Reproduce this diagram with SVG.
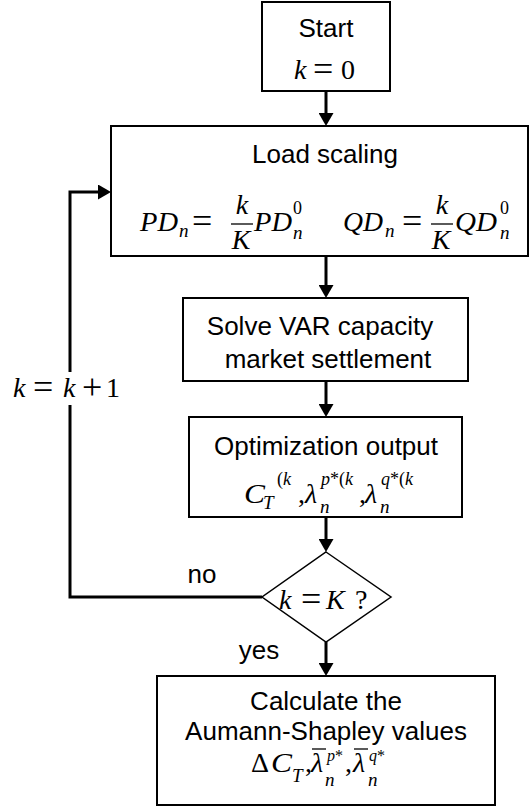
<svg xmlns="http://www.w3.org/2000/svg" width="530" height="811" viewBox="0 0 530 811">
<defs>
<style>
.box{fill:#fff;stroke:#000;stroke-width:2}
.dia{fill:#fff;stroke:#000;stroke-width:1.5}
.conn{fill:none;stroke:#000;stroke-width:3}
.t{font-family:"Liberation Sans",Arial,sans-serif;font-size:26px;text-anchor:middle;fill:#000}
.mi{font-family:"Liberation Serif","Times New Roman",serif;font-style:italic;font-size:28px;fill:#000}
.mr{font-family:"Liberation Serif","Times New Roman",serif;font-size:28px;fill:#000}
.eq{font-family:"Liberation Serif","Times New Roman",serif;font-size:36px;fill:#000}
.si{font-family:"Liberation Serif","Times New Roman",serif;font-style:italic;font-size:19px;fill:#000}
.sr{font-family:"Liberation Serif","Times New Roman",serif;font-size:18px;fill:#000}
.ss{font-family:"Liberation Serif","Times New Roman",serif;font-size:16px;fill:#000}
.it{font-style:italic}
.bar{stroke:#000;stroke-width:1.3}
</style>
<marker id="ah" viewBox="0 0 13 15" markerWidth="13" markerHeight="15" refX="8" refY="7.5" orient="auto" markerUnits="userSpaceOnUse">
<path d="M0,0 L13,7.5 L0,15 z" fill="#000"/>
</marker>
</defs>
<rect width="530" height="811" fill="#fff"/>

<g id="connectors">
<path class="conn" d="M326,92 V121" marker-end="url(#ah)"/>
<path class="conn" d="M326,257 V293" marker-end="url(#ah)"/>
<path class="conn" d="M326,382 V412" marker-end="url(#ah)"/>
<path class="conn" d="M326,518 V547" marker-end="url(#ah)"/>
<path class="conn" d="M326,642 V671" marker-end="url(#ah)"/>
<path class="conn" d="M262,597 H70 V405"/>
<path class="conn" d="M70,372 V192 H106" marker-end="url(#ah)"/>
<text class="mi" x="13" y="397">k</text>
<text class="eq" x="33" y="399">=</text>
<text class="mi" x="63" y="397">k</text>
<text class="eq" x="82" y="399">+</text>
<text class="mr" x="106" y="397">1</text>
<text class="t" x="202" y="583">no</text>
<text class="t" x="259" y="659">yes</text>
</g>

<g id="start">
<rect class="box" x="262" y="2" width="128" height="89"/>
<text class="t" x="326" y="37">Start</text>
<text class="mi" x="294" y="79">k</text>
<text class="eq" x="313" y="81">=</text>
<text class="mr" x="341" y="79">0</text>
</g>

<g id="load">
<rect class="box" x="111" y="126" width="417" height="130"/>
<text class="t" x="325" y="163">Load scaling</text>
<text class="mi" x="140" y="231" textLength="38" lengthAdjust="spacingAndGlyphs">PD</text>
<text class="si" x="179" y="237">n</text>
<text class="eq" x="192" y="233">=</text>
<line class="bar" x1="231" y1="224" x2="253" y2="224"/>
<text class="mi" x="242" y="214" text-anchor="middle">k</text>
<text class="mi" x="241" y="249" text-anchor="middle">K</text>
<text class="mi" x="254" y="231" textLength="38" lengthAdjust="spacingAndGlyphs">PD</text>
<text class="sr" x="293" y="214">0</text>
<text class="si" x="293" y="239">n</text>
<text class="mi" x="343" y="231" textLength="40" lengthAdjust="spacingAndGlyphs">QD</text>
<text class="si" x="385" y="237">n</text>
<text class="eq" x="402" y="233">=</text>
<line class="bar" x1="431" y1="224" x2="453" y2="224"/>
<text class="mi" x="442" y="214" text-anchor="middle">k</text>
<text class="mi" x="441" y="249" text-anchor="middle">K</text>
<text class="mi" x="455" y="231" textLength="42" lengthAdjust="spacingAndGlyphs">QD</text>
<text class="sr" x="500" y="214">0</text>
<text class="si" x="500" y="239">n</text>
</g>

<g id="solve">
<rect class="box" x="183" y="298" width="285" height="83"/>
<text class="t" x="320" y="335">Solve VAR capacity</text>
<text class="t" x="328" y="368">market settlement</text>
</g>

<g id="output">
<rect class="box" x="189" y="417" width="273" height="100"/>
<text class="t" x="326" y="455">Optimization output</text>
<text class="mi" x="244" y="503" textLength="21" lengthAdjust="spacingAndGlyphs">C</text>
<text class="si" x="263" y="509">T</text>
<text class="sr" x="277" y="485">(<tspan class="it">k</tspan></text>
<text class="mr" x="298" y="503">,</text>
<text class="mi" x="305" y="503">λ</text>
<text class="sr" x="321" y="485"><tspan class="it">p</tspan>*(<tspan class="it">k</tspan></text>
<text class="si" x="320" y="513">n</text>
<text class="mr" x="359" y="503">,</text>
<text class="mi" x="365" y="503">λ</text>
<text class="sr" x="381" y="485"><tspan class="it">q</tspan>*(<tspan class="it">k</tspan></text>
<text class="si" x="380" y="513">n</text>
</g>

<g id="decision">
<polygon class="dia" points="326,552 391,597 326,642 262,597"/>
<text class="mi" x="279" y="609">k</text>
<text class="eq" x="301" y="611">=</text>
<text class="mi" x="326" y="609">K</text>
<text class="mr" x="355" y="609">?</text>
</g>

<g id="shapley">
<rect class="box" x="157" y="676" width="338" height="129"/>
<text class="t" x="326" y="710">Calculate the</text>
<text class="t" x="326" y="740">Aumann-Shapley values</text>
<text class="mr" x="251" y="772">Δ</text>
<text class="mi" x="271" y="772" textLength="21" lengthAdjust="spacingAndGlyphs">C</text>
<text class="si" x="292" y="782">T</text>
<text class="mr" x="305" y="772">,</text>
<text class="mi" x="311" y="772">λ</text>
<line class="bar" x1="312" y1="749" x2="326" y2="749"/>
<text class="ss" x="327" y="761"><tspan class="it">p</tspan>*</text>
<text class="si" x="325" y="786">n</text>
<text class="mr" x="345" y="772">,</text>
<text class="mi" x="353" y="772">λ</text>
<line class="bar" x1="354" y1="749" x2="368" y2="749"/>
<text class="ss" x="369" y="761"><tspan class="it">q</tspan>*</text>
<text class="si" x="368" y="786">n</text>
</g>
</svg>
